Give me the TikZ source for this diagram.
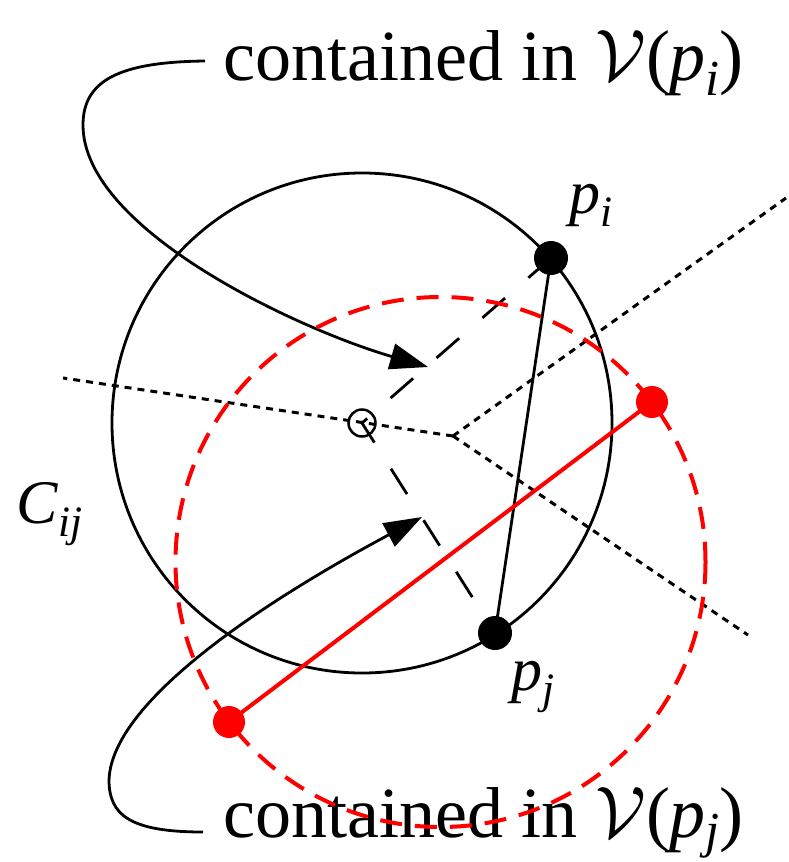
\documentclass[tikz,border=0pt]{standalone}
\usepackage{graphicx}
\usepackage{fontspec}
\setmainfont{Liberation Serif}
\usetikzlibrary{arrows.meta}
\definecolor{vred}{HTML}{FF0000}
\newcommand\lowsub[2][0.22em]{\raisebox{-#1}{\scalebox{0.7}{\textit{#2}}}}
\newcommand\vcell{\scalebox{7.3}{\fontsize{10}{12}\selectfont$\mathcal{V}$}}
\tikzset{px/.style={x=1pt,y=-1pt,line width=2.8pt},
  site/.style={circle,fill,inner sep=0pt,minimum size=34pt},
  bis/.style={line width=3pt,dash pattern=on 7pt off 6pt},
  lab/.style={inner sep=0pt,anchor=base west,font=\fontsize{62}{64}\selectfont},
  txt/.style={inner sep=0pt,anchor=base west,font=\fontsize{72}{76}\selectfont},
  ptr/.style={-{Triangle[length=38pt,width=26pt]}}}

\begin{document}
\begin{tikzpicture}[px]
  \useasboundingbox (0,0) rectangle (788,862);
  \coordinate (c) at (362,423);
  \coordinate (v) at (453,436);
  \coordinate (pi) at (551,258);
  \coordinate (pj) at (495,633);
  \coordinate (m) at (440.5,562);
  \coordinate (r1) at (229,722);
  \coordinate (r2) at (652,402);
  \coordinate (b1) at (63,378);
  \coordinate (b2) at (786,198);
  \coordinate (b3) at (748,635);
  \coordinate (a1) at (205,61);
  \coordinate (h1) at (428,367);
  \coordinate (a2) at (203,832);
  \coordinate (h2) at (422,517);
  \draw (c) circle (250);
  \foreach \e in {b1,b2,b3}{\draw[bis] (v) -- (\e);}
  \draw[dash pattern=on 30pt off 31pt] (pi) -- (c) -- (pj);
  \draw (pi) -- (pj);
  \node[draw,circle,inner sep=0pt,minimum size=27pt,line width=2.5pt] (cc) at (c) {};
  \node[site] (pidot) at (pi) {};
  \node[site] (pjdot) at (pj) {};
  \draw[ptr] (a1) .. controls (120,62) and (83,80) .. (83,125) .. controls (83,230) and (300,330) .. (h1);
  \draw[ptr] (a2) .. controls (130,832) and (109,815) .. (109,780) .. controls (112,690) and (310,577) .. (h2);
  \node[txt] (ti) at (222,80) {contained in \vcell(\textit{p}\lowsub{i})};
  \node[txt] (tj) at (222,837) {contained in \vcell(\textit{p}\lowsub[0.14em]{j})};
  \node[lab] (lpi) at (568,213) {\textit{p}\lowsub{i}};
  \node[lab] (lpj) at (510,690) {\textit{p}\lowsub{j}};
  \node[lab] (lc) at (15,523) {\textit{C}\lowsub{ij}};
  \draw[vred,line width=4pt,dash pattern=on 22pt off 13pt] (m) circle (265);
  \draw[vred,line width=4pt] (r1) -- (r2);
  \node[site,vred,minimum size=32pt] (r1dot) at (r1) {};
  \node[site,vred,minimum size=32pt] (r2dot) at (r2) {};
\end{tikzpicture}
\end{document}
